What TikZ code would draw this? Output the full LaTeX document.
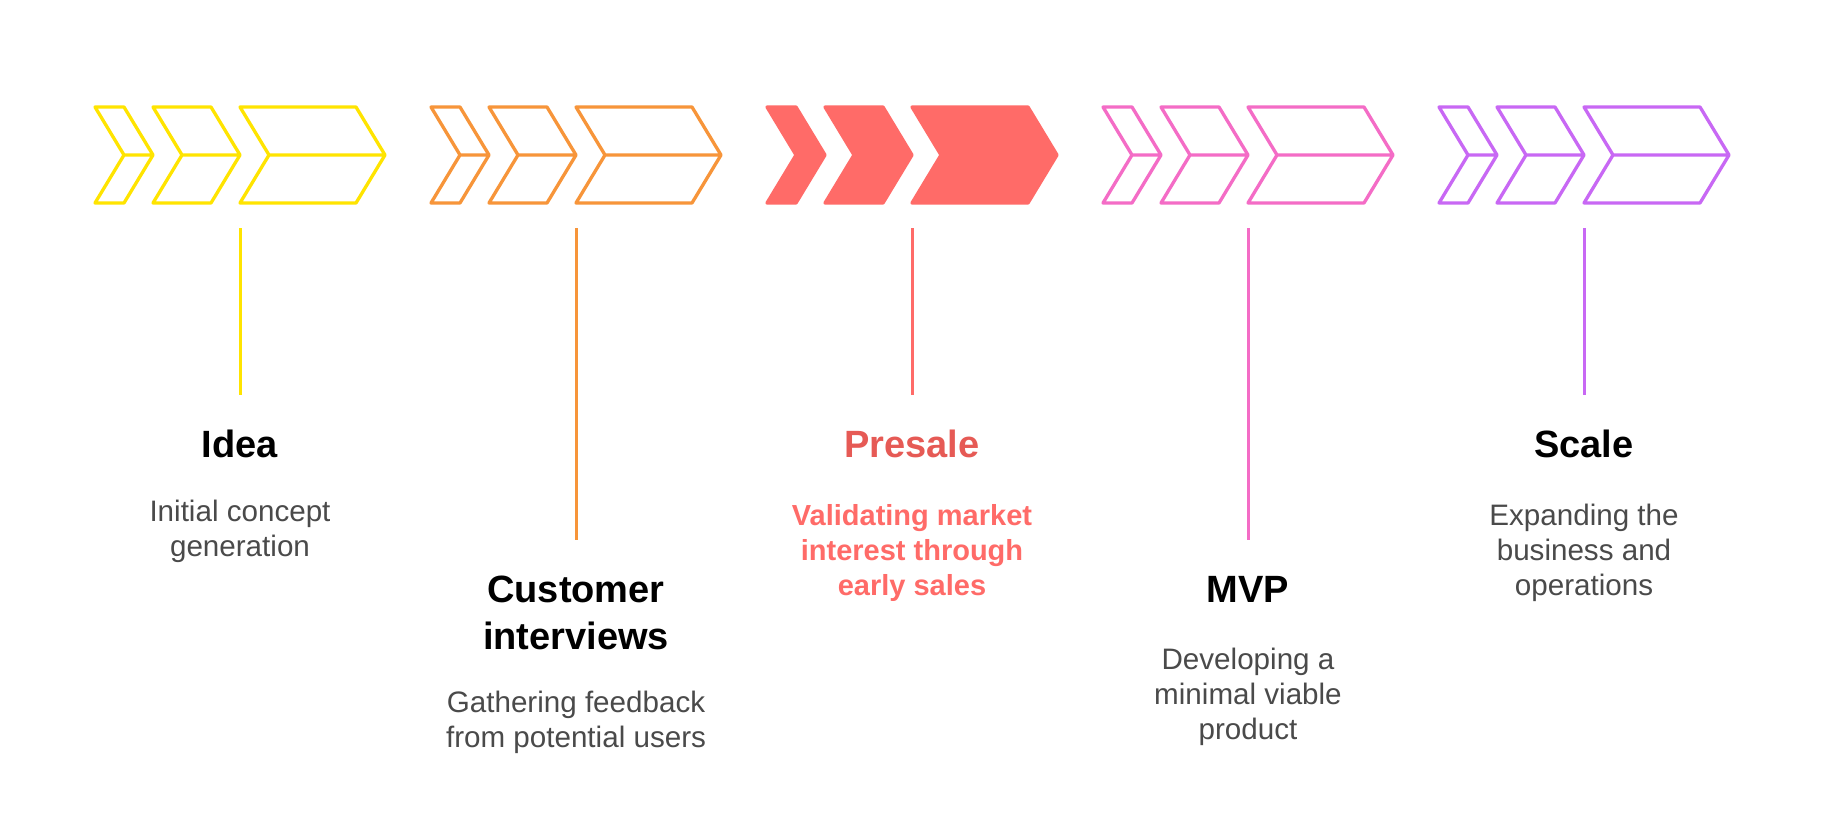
\documentclass[tikz,border=0pt]{standalone}
\usepackage{fontspec}
\setmainfont{Liberation Sans}
\definecolor{cyel}{HTML}{FFE400}
\definecolor{corg}{HTML}{F7953A}
\definecolor{cred}{HTML}{FF6B68}
\definecolor{credd}{HTML}{E65A55}
\definecolor{cpnk}{HTML}{F46CC6}
\definecolor{cpur}{HTML}{C868F4}
\definecolor{cgry}{HTML}{4A4A4A}
% outline chevron group: #1 = x0, #2 = colour
\newcommand\chevgroupout[2]{%
  \foreach \a/\w in {0/29,58/58,145/116}{%
    \draw[chevline,draw=#2] ({#1+\a},107) -- ({#1+\a+\w},107) -- ({#1+\a+\w+29},155)
      -- ({#1+\a+\w},203) -- ({#1+\a},203) -- ({#1+\a+29},155) -- cycle
      ({#1+\a+29},155) -- ({#1+\a+\w+29},155);
  }%
}
% filled chevron group
\newcommand\chevgroupfill[2]{%
  \foreach \a/\w in {0/29,58/58,145/116}{%
    \filldraw[chevline,draw=#2,fill=#2] ({#1+\a},107) -- ({#1+\a+\w},107) -- ({#1+\a+\w+29},155)
      -- ({#1+\a+\w},203) -- ({#1+\a},203) -- ({#1+\a+29},155) -- cycle;
  }%
}
\begin{document}
\begin{tikzpicture}[x=1pt,y=-1pt,
  chevline/.style={line width=3.3pt,line join=round},
  stem/.style={line width=3pt},
  ttl/.style={anchor=base,inner sep=0pt,font=\fontsize{38}{46}\selectfont\bfseries,text=black},
  dsc/.style={anchor=base,inner sep=0pt,font=\fontsize{29.6}{35}\selectfont,text=cgry},
  dscb/.style={anchor=base,inner sep=0pt,font=\fontsize{29}{35}\selectfont\bfseries,text=cred}]
\useasboundingbox[fill=white] (0,0) rectangle (1824,830);

% chevron groups
\chevgroupout{95}{cyel}
\chevgroupout{431}{corg}
\chevgroupfill{767}{cred}
\chevgroupout{1103}{cpnk}
\chevgroupout{1439}{cpur}

% stems
\coordinate (s1t) at (240,228);  \coordinate (s1b) at (240,395);
\coordinate (s2t) at (576,228);  \coordinate (s2b) at (576,540);
\coordinate (s3t) at (912,228);  \coordinate (s3b) at (912,395);
\coordinate (s4t) at (1248,228); \coordinate (s4b) at (1248,540);
\coordinate (s5t) at (1584,228); \coordinate (s5b) at (1584,395);
\draw[stem,cyel] (s1t) -- (s1b);
\draw[stem,corg] (s2t) -- (s2b);
\draw[stem,cred] (s3t) -- (s3b);
\draw[stem,cpnk] (s4t) -- (s4b);
\draw[stem,cpur] (s5t) -- (s5b);

% Idea
\node[ttl] (t1) at (240,457) {Idea};
\node[dsc] (d1a) at (240,521) {Initial concept};
\node[dsc] (d1b) at (240,556) {generation};

% Customer interviews
\node[ttl] (t2a) at (576,602) {Customer};
\node[ttl] (t2b) at (576,649) {interviews};
\node[dsc] (d2a) at (576,712) {Gathering feedback};
\node[dsc] (d2b) at (576,747) {from potential users};

% Presale
\node[ttl,text=credd] (t3) at (912,457) {Presale};
\node[dscb] (d3a) at (912,525) {Validating market};
\node[dscb] (d3b) at (912,560) {interest through};
\node[dscb] (d3c) at (912,595) {early sales};

% MVP
\node[ttl] (t4) at (1248,602) {MVP};
\node[dsc] (d4a) at (1248,669) {Developing a};
\node[dsc] (d4b) at (1248,704) {minimal viable};
\node[dsc] (d4c) at (1248,739) {product};

% Scale
\node[ttl] (t5) at (1584,457) {Scale};
\node[dsc] (d5a) at (1584,525) {Expanding the};
\node[dsc] (d5b) at (1584,560) {business and};
\node[dsc] (d5c) at (1584,595) {operations};
\end{tikzpicture}
\end{document}
